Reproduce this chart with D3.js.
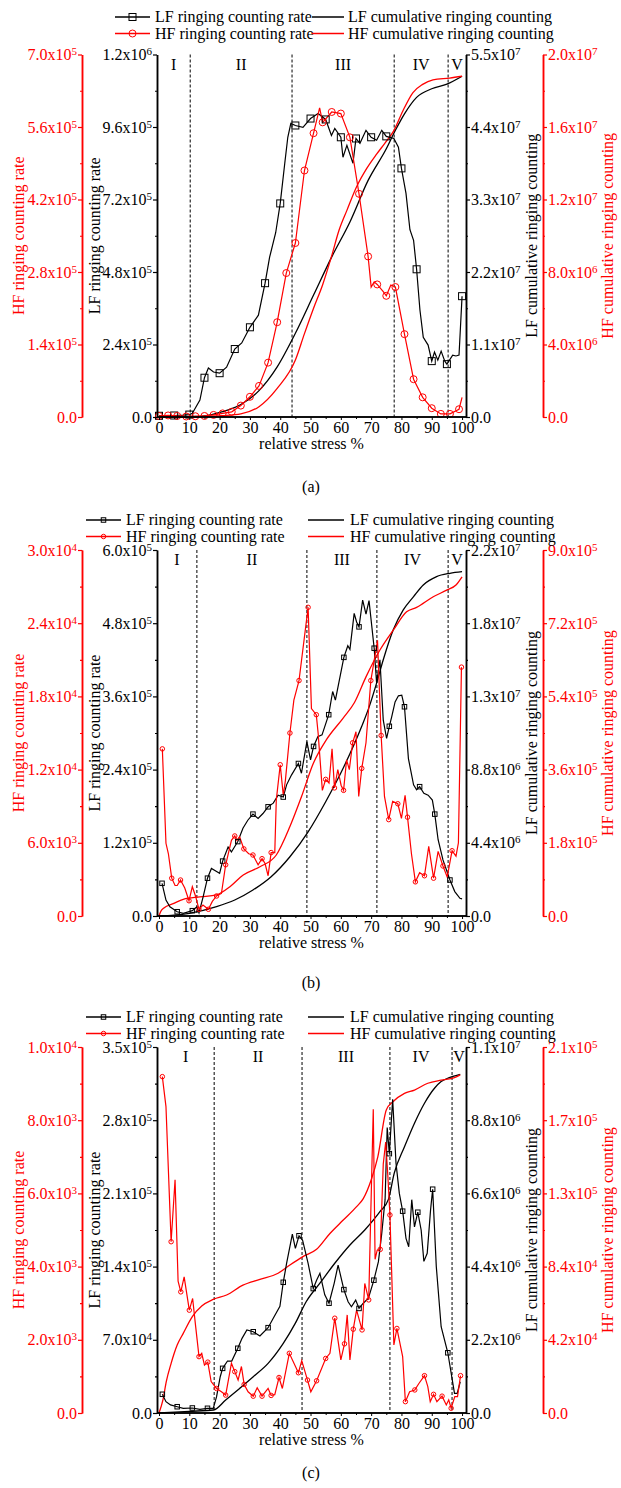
<!DOCTYPE html>
<html>
<head>
<meta charset="utf-8">
<script src="https://cdn.jsdelivr.net/npm/d3@7"></script>
<style>
body { margin: 0; background: #fff; }
svg text { font-family: "Liberation Serif", "Times New Roman", serif; }
</style>
</head>
<body>
<svg id="chart" width="621" height="1488"></svg>
<script>
// ---- data: [relative stress %, value, marker?] ----
var stageNames = ["I", "II", "III", "IV", "V"];

// panel (a)
var aBounds = [10.3, 43.9, 77.6, 95.4];
var aLFRate = [[0,4e3,1],[2,5e3],[5,5e3,1],[8,6e3],[10,8e3,1],[11,12e3],[12,30e3],[13.5,56e3],[15,130e3,1],[16.3,162e3],[18,149e3],[20,145e3,1],[22.3,165e3],[25,225e3,1],[27.3,245e3],[30,297e3,1],[32.8,337e3],[35,443e3,1],[36.5,529e3],[38.5,610e3],[40,707e3,1],[41.5,840e3],[42.5,926e3],[43.5,972e3],[45,965e3,1],[47.5,959e3],[50,988e3,1],[52.5,1005e3],[55,985e3,1],[56.9,932e3],[58,955e3],[60,926e3,1],[60.7,860e3],[62,899e3],[64,840e3],[65,922e3,1],[66.3,906e3],[68.3,949e3],[70,926e3,1],[71.8,916e3],[73.5,949e3],[75,929e3,1],[77.5,922e3],[79,893e3],[80,823e3,1],[81.5,740e3],[82.8,620e3],[84,585e3],[85,489e3,1],[86.1,354e3],[87.2,264e3],[88.8,238e3],[90,185e3,1],[90.9,215e3],[92,188e3],[93.1,218e3],[94.3,185e3],[95,175e3,1],[96.9,205e3],[98,202e3],[99,205e3],[100,400e3,1]];
var aHFRate = [[0,2e3,1],[3,3e3,1],[6,2e3,1],[9,1e3,1],[12,1.5e3,1],[15,2e3,1],[18,4e3,1],[21,7e3,1],[24,10e3,1],[27,22e3,1],[30,39e3,1],[33,60e3,1],[36,105e3,1],[39,183e3,1],[42,278e3,1],[45,336e3,1],[48,476e3,1],[51,548e3,1],[53,597e3],[54,569e3,1],[57,589e3,1],[60,586e3,1],[63,540e3,1],[66,431e3,1],[69,310e3,1],[70,251e3],[71,261e3],[72,256e3,1],[74,242e3],[75,234e3,1],[76.5,255e3],[78,251e3,1],[81,160e3,1],[84,73e3,1],[87,38e3,1],[90,17e3,1],[93,6e3,1],[96,6e3,1],[99,15e3,1],[100,38e3]];
var aLFCum = [[0,0],[10,0],[15,0.15e6],[21,0.8e6],[27,1.9e6],[33,4.0e6],[39,7.6e6],[45,12.7e6],[51,18.5e6],[57,24.3e6],[63,29.6e6],[69,35.9e6],[75,40.7e6],[78,43.5e6],[81,46.0e6],[85,48.5e6],[90,49.8e6],[95,50.5e6],[100,51.7e6]];
var aHFCum = [[0,0],[15,0.02e6],[21,0.07e6],[27,0.17e6],[33,0.57e6],[39,1.58e6],[45,3.14e6],[48,4.6e6],[51,6.0e6],[54,7.3e6],[57,8.9e6],[59.4,10.3e6],[62,11.4e6],[65.2,12.7e6],[68.5,13.7e6],[71.8,14.5e6],[74.5,15.1e6],[77.5,15.8e6],[80.5,16.9e6],[83.8,17.9e6],[87,18.35e6],[90.4,18.6e6],[95.9,18.7e6],[100,18.8e6]];

// panel (b)
var bBounds = [12.5, 48.8, 71.9, 95.4];
var bLFRate = [[1,53.6e3,1],[2.3,26e3],[3.6,15e3],[6,7e3,1],[8,4.4e3],[11,8.7e3,1],[12.5,15e3],[13.2,5e3],[14.6,32e3],[16,62e3,1],[17.3,78e3],[19,73e3],[20,70e3],[21,90e3,1],[22.8,113e3],[23.9,105e3],[26,122e3,1],[27.7,144e3],[29.3,157e3],[31,167e3,1],[32.7,160e3],[34.3,168e3],[36,179e3,1],[37.7,185e3],[39.3,198e3],[41,195e3,1],[42.1,215e3],[43.7,231e3],[46,250e3,1],[47,234e3],[48.8,286e3],[50,256e3],[51,278e3,1],[52.4,294e3],[53.8,297e3],[56,330e3,1],[57.3,368e3],[58.2,354e3],[61,424e3,1],[62.3,443e3],[63,437e3],[64.4,496e3],[65.2,482e3],[66,474e3,1],[67.2,518e3],[68.3,495e3],[69.3,517e3],[71,439e3,1],[71.8,382e3],[72.9,420e3],[74,321e3],[75.1,291e3],[76,311e3,1],[76.8,327e3],[77.9,351e3],[79,361e3],[80.1,362e3],[81,343e3,1],[82.3,258e3],[84,215e3],[85,207e3],[86,212e3,1],[87.4,201e3],[88.8,198e3],[90.2,190e3],[91,167e3,1],[92.1,125e3],[93.7,92e3],[96,59e3,1],[97.6,40e3],[99.3,29e3],[100,28e3]];
var bHFRate = [[1.1,13.7e3,1],[2.3,5.96e3],[3.1,5.1e3],[4.2,3.1e3,1],[5.3,2.5e3],[6,2.5e3],[7.1,2.95e3,1],[8.5,2.3e3],[9.9,1.25e3,1],[11,2.4e3],[12.1,1.6e3],[13.2,0.55e3,1],[14.5,0.9e3],[16.3,0.55e3,1],[17.6,1.2e3],[19,1.64e3,1],[20.6,1.85e3],[22,4.2e3,1],[23.9,6.2e3],[25,6.56e3,1],[25.7,6.2e3],[26.6,6.5e3],[28,5.5e3,1],[29.6,5.1e3],[31,5e3,1],[32.7,4.2e3],[34,4.7e3,1],[35,4.3e3],[36,3.3e3],[37,5.2e3,1],[38.2,5.2e3],[38.7,9.5e3],[40,12.4e3,1],[41,9.9e3],[41.7,11.1e3],[43.2,15e3,1],[44.5,17.7e3],[46.2,19.3e3,1],[49.2,25.3e3,1],[50.3,17e3],[51.9,16.5e3,1],[52.5,15e3],[53.9,10.3e3],[55,11.2e3,1],[56.1,10.9e3],[57.1,13.7e3],[57.9,10.5e3,1],[59,12e3],[60.1,10.7e3],[60.9,10.3e3,1],[61.9,12.8e3],[62.8,12e3],[63.9,14.2e3,1],[65,15.1e3],[65.9,9.8e3],[66.9,12.1e3,1],[68.3,14.2e3],[69.9,19.3e3,1],[72.1,22.6e3],[73.3,14.8e3,1],[74.4,9.8e3],[75.8,7.9e3,1],[77.1,9.4e3],[78.8,9.2e3,1],[80,8e3],[81.2,9.9e3],[82,8.1e3,1],[83.3,5.1e3],[84.6,2.8e3,1],[86,3.55e3],[87.6,3.3e3,1],[89,5.7e3],[90.6,3.1e3,1],[92.1,5.3e3],[93.7,4.1e3,1],[95.1,3.2e3],[96.7,5.35e3,1],[98,4.9e3],[98.8,6e3],[99.8,20.4e3,1]];
var bLFCum = [[0,0],[5,0.05e6],[10,0.16e6],[19,0.56e6],[25,0.96e6],[31,1.56e6],[37,2.36e6],[43.2,3.56e6],[49.2,5.06e6],[55,6.87e6],[61,8.97e6],[66.9,11.4e6],[69.4,12.6e6],[71.8,14.0e6],[74,15.4e6],[77.3,17.2e6],[80.6,18.4e6],[84,19.2e6],[87.2,19.9e6],[91.6,20.4e6],[96,20.6e6],[100,20.7e6]];
var bHFCum = [[0,0],[0.5,10e3],[1.5,19e3],[4.9,31e3],[8,41e3],[13.5,47e3],[19,52e3],[23.4,72e3],[27.8,101e3],[33.3,121e3],[38.7,150e3],[43.2,220e3],[47,293e3],[50.9,375e3],[55.2,433e3],[60.7,486e3],[64.5,525e3],[68.3,588e3],[72.9,654e3],[77.3,703e3],[81.7,748e3],[85,759e3],[90.5,785e3],[95.1,802e3],[98,814e3],[100,834e3]];

// panel (c)
var cBounds = [18.2, 47.2, 76.2, 96.7];
var cLFRate = [[1.1,17.9e3,1],[2.3,10.8e3],[3.8,7.7e3],[6,6e3,1],[8,4.5e3],[11,4.8e3,1],[13.5,3.5e3],[16,4.5e3,1],[17.9,4.5e3],[19,15.6e3],[20.2,34.7e3],[21,42.7e3,1],[22.6,49.7e3],[24,49.7e3],[26,61.9e3,1],[27.4,71.4e3],[29,79.4e3],[31.1,77.7e3,1],[33.3,73.6e3],[36,81.6e3,1],[37.7,90.6e3],[39.9,102e3],[41,125e3,1],[42.1,143e3],[44,171e3],[45,157.5e3],[46.2,169.5e3,1],[47.4,165e3],[49.2,143e3],[50.9,119e3,1],[52,127e3],[53.1,133.6e3],[54.7,113e3],[56.1,105e3,1],[57.8,124e3],[59.1,141.5e3],[61,118e3,1],[62.4,106.4e3],[63.5,101.6e3],[64.9,108e3],[66,100e3,1],[67.4,105e3],[69.1,109.7e3],[70.9,127e3,1],[72.4,144.7e3],[73.5,171.8e3],[74.6,204e3],[75.3,273e3],[76,248e3,1],[77.1,300e3],[78.2,239e3],[79.3,210e3],[80.4,193e3,1],[81.5,167e3],[82.4,159e3],[83.4,204e3],[84.3,178e3],[85.4,192e3,1],[86.5,175e3],[87.4,145e3],[88.5,152.7e3],[89.6,194e3],[90.3,214e3,1],[91.5,140e3],[93.1,82.5e3],[95.3,57.6e3,1],[97.5,18.8e3],[98.4,18.8e3],[99.4,29.9e3]];
var cHFRate = [[1.1,9.19e3,1],[2.3,8.37e3],[4,4.68e3,1],[5.3,6.37e3],[6.3,3.6e3],[7.2,3.31e3,1],[8.3,3.72e3],[10,2.81e3,1],[11.1,3.13e3],[12.1,2.36e3],[13.2,1.54e3,1],[14.1,1.63e3],[15,1.31e3],[16.1,1.39e3,1],[17.2,0.86e3],[19,0.67e3,1],[20.6,0.58e3],[22,0.49e3,1],[23.9,1.36e3],[25,1.13e3,1],[26.1,0.9e3],[27.2,1.27e3],[28.1,0.78e3,1],[29.4,0.58e3],[31.1,0.46e3,1],[32.4,0.69e3],[34,0.46e3,1],[36,0.67e3],[37,0.48e3,1],[38.2,0.5e3],[39.6,0.97e3,1],[40.7,0.67e3],[43,1.63e3,1],[46,1.1e3,1],[47.1,1.43e3],[49,0.9e3,1],[50.1,0.58e3],[52,0.88e3,1],[55,1.49e3,1],[56.4,1.63e3],[58,2.59e3,1],[60,1.45e3],[61.2,1.89e3,1],[62.1,2.68e3],[63,1.45e3],[64.1,2.29e3,1],[65.2,2.81e3],[67,2.27e3,1],[67.9,3.54e3],[69.2,3.09e3,1],[70.7,8.3e3],[71.3,4.2e3],[72,4.45e3],[73,4.47e3,1],[74,6.8e3],[74.8,7.4e3],[75.5,6.5e3],[76.2,5.41e3,1],[77.5,1.86e3],[78.5,2.31e3,1],[80.4,1.54e3],[81.3,0.31e3,1],[82.7,0.58e3],[84.4,0.63e3,1],[85.7,0.8e3],[87.6,1.02e3,1],[88.7,0.72e3],[89.5,0.31e3],[90.6,0.51e3,1],[91.7,0.31e3],[93.4,0.46e3,1],[94.8,0.22e3],[95.6,0.36e3],[96.4,0.13e3,1],[97.6,0.45e3],[98.5,0.45e3],[99.5,1.02e3,1]];
var cLFCum = [[0,0],[10,0.05e6],[18,0.09e6],[22,0.39e6],[26.6,0.74e6],[31.1,1.09e6],[36,1.49e6],[41,2.09e6],[45,2.7e6],[48.6,3.35e6],[53.1,3.9e6],[58,4.5e6],[63,5.05e6],[67.9,5.5e6],[72.9,6.05e6],[75.7,6.42e6],[77.6,7.2e6],[81,8.0e6],[84.3,8.71e6],[87.6,9.31e6],[90.9,9.76e6],[93.1,9.96e6],[95.8,10.08e6],[99.4,10.18e6]];
var cHFCum = [[0,0],[1.3,7.5e3],[2.4,18e3],[4,28.5e3],[6,39e3],[8,45.7e3],[11,55.3e3],[14.1,61.4e3],[17.9,65.2e3],[22.3,67.7e3],[27.7,73.4e3],[33.3,76.7e3],[39.3,80.2e3],[43.2,84.9e3],[47.5,89.7e3],[52,93.9e3],[56.4,103e3],[60.8,110.7e3],[65.2,118.4e3],[67.4,123e3],[70,133.7e3],[72.2,147e3],[75,173.9e3],[77.2,178.6e3],[81,183.4e3],[84.3,185.3e3],[88.7,189.2e3],[93.1,191e3],[97.5,192.4e3],[99.4,194e3]];

// axis maxima: [LF rate, HF rate, LF cumulative, HF cumulative]
var aMax = [1.2e6, 7e5, 5.5e7, 2e7];
var bMax = [6e5, 3e4, 2.2e7, 9e5];
var cMax = [3.5e5, 1e4, 1.1e7, 2.1e5];
var xTicks = d3.range(0, 101, 10);

var RED = "#ff0000";
var svg = d3.select("#chart");

var panels = [
  {lfRate: aLFRate, hfRate: aHFRate, lfCum: aLFCum, hfCum: aHFCum, max: aMax, bounds: aBounds,
   top: 54.5, bottom: 417, legY: 17, leg: [115, 150, 155, 312, 344, 348], big: true, cap: "(a)", capY: 492},
  {lfRate: bLFRate, hfRate: bHFRate, lfCum: bLFCum, hfCum: bHFCum, max: bMax, bounds: bBounds,
   top: 550, bottom: 916, legY: 520, leg: [86, 121, 126, 308, 344, 350], big: false, cap: "(b)", capY: 988},
  {lfRate: cLFRate, hfRate: cHFRate, lfCum: cLFCum, hfCum: cHFCum, max: cMax, bounds: cBounds,
   top: 1047, bottom: 1413, legY: 1017, leg: [86, 121, 126, 308, 344, 350], big: false, cap: "(c)", capY: 1478}
];

var left = 157, right = 466, redLeft = 82, redRight = 543;
var x = d3.scaleLinear().domain([-0.66, 101.3]).range([left, right]);

function sciLabels(sel) {
  sel.selectAll(".tick text").each(function(d) {
    var t = d3.select(this).text(null);
    if (d === 0) { t.text("0.0"); return; }
    var e = Math.floor(Math.log10(d) + 1e-9);
    var m = (d / Math.pow(10, e)).toFixed(1);
    t.append("tspan").text(m + "x10");
    t.append("tspan").attr("dy", "-0.45em").attr("font-size", "11px").text(e);
  });
}

function yAxis(g, scale, xpos, side, color, max) {
  var ticks = d3.range(6).map(function(i) { return max * i / 5; });
  var minor = d3.range(5).map(function(i) { return max * (i + 0.5) / 5; });
  var mk = side === "left" ? d3.axisLeft : d3.axisRight;
  var a = g.append("g").attr("transform", "translate(" + xpos + ",0)")
    .call(mk(scale).tickValues(ticks).tickSize(4).tickSizeOuter(0).tickPadding(1));
  a.selectAll("text").attr("fill", color).attr("font-size", "16px")
    .attr("font-family", "'Liberation Serif', serif");
  sciLabels(a);
  a.append("g").call(mk(scale).tickValues(minor).tickSize(2).tickSizeOuter(0).tickFormat(""));
  a.selectAll("path").attr("stroke", color).attr("stroke-width", 1.5);
  a.selectAll("line").attr("stroke", color).attr("stroke-width", 1.2);
}

function vTitle(g, xpos, ymid, text, color) {
  g.append("text").attr("transform", "translate(" + xpos + "," + ymid + ") rotate(-90)")
    .attr("text-anchor", "middle").attr("dy", "0.35em").attr("font-size", "16px")
    .attr("fill", color).text(text);
}

function marker(g, kind, cx, cy, size, color) {
  if (kind === "square") {
    g.append("rect").attr("x", cx - size / 2).attr("y", cy - size / 2)
      .attr("width", size).attr("height", size)
      .attr("fill", "none").attr("stroke", color).attr("stroke-width", 1);
  } else {
    g.append("circle").attr("cx", cx).attr("cy", cy).attr("r", size / 2)
      .attr("fill", "none").attr("stroke", color).attr("stroke-width", 1);
  }
}

panels.forEach(function(p) {
  var g = svg.append("g");
  var yLR = d3.scaleLinear().domain([0, p.max[0]]).range([p.bottom, p.top]);
  var yHR = d3.scaleLinear().domain([0, p.max[1]]).range([p.bottom, p.top]);
  var yLC = d3.scaleLinear().domain([0, p.max[2]]).range([p.bottom, p.top]);
  var yHC = d3.scaleLinear().domain([0, p.max[3]]).range([p.bottom, p.top]);
  var mSize = p.big ? 7 : 4.5;
  var mid = (p.top + p.bottom) / 2;

  // stage dividers and names
  p.bounds.forEach(function(b) {
    g.append("line").attr("x1", x(b)).attr("x2", x(b)).attr("y1", p.top).attr("y2", p.bottom)
      .attr("stroke", "#000").attr("stroke-width", 1).attr("stroke-dasharray", "3,2");
  });
  var edges = [-0.66].concat(p.bounds, [101.3]);
  stageNames.forEach(function(s, i) {
    g.append("text").attr("x", x((edges[i] + edges[i + 1]) / 2)).attr("y", p.top + 15)
      .attr("text-anchor", "middle").attr("font-size", "16px").text(s);
  });

  // lines
  var rateLine = function(ys) {
    return d3.line().x(function(d) { return x(d[0]); }).y(function(d) { return ys(d[1]); });
  };
  var cumLine = function(ys) {
    return d3.line().curve(d3.curveMonotoneX).x(function(d) { return x(d[0]); }).y(function(d) { return ys(d[1]); });
  };
  g.append("path").datum(p.lfCum).attr("d", cumLine(yLC))
    .attr("fill", "none").attr("stroke", "#000").attr("stroke-width", 1.3);
  g.append("path").datum(p.hfCum).attr("d", cumLine(yHC))
    .attr("fill", "none").attr("stroke", RED).attr("stroke-width", 1.3);
  g.append("path").datum(p.lfRate).attr("d", rateLine(yLR))
    .attr("fill", "none").attr("stroke", "#000").attr("stroke-width", 1.2);
  g.append("path").datum(p.hfRate).attr("d", rateLine(yHR))
    .attr("fill", "none").attr("stroke", RED).attr("stroke-width", 1.2);
  p.lfRate.filter(function(d) { return d[2]; }).forEach(function(d) {
    marker(g, "square", x(d[0]), yLR(d[1]), mSize, "#000");
  });
  p.hfRate.filter(function(d) { return d[2]; }).forEach(function(d) {
    marker(g, "circle", x(d[0]), yHR(d[1]), mSize, RED);
  });

  // axes
  var xa = g.append("g").attr("transform", "translate(0," + p.bottom + ")")
    .call(d3.axisBottom(x).tickValues(xTicks).tickSize(3).tickSizeOuter(0).tickPadding(2));
  xa.selectAll("text").attr("font-size", "16px").attr("font-family", "'Liberation Serif', serif").attr("fill", "#000");
  xa.append("g").call(d3.axisBottom(x).tickValues(d3.range(5, 100, 10)).tickSize(2).tickSizeOuter(0).tickFormat(""));
  xa.selectAll("path").attr("d", "M" + left + ",0H" + right).attr("stroke-width", 1.5);
  g.append("text").attr("x", (left + right) / 2).attr("y", p.bottom + 32)
    .attr("text-anchor", "middle").attr("font-size", "16px").text("relative stress %");

  yAxis(g, yLR, left, "left", "#000", p.max[0]);
  yAxis(g, yHR, redLeft, "left", RED, p.max[1]);
  yAxis(g, yLC, right, "right", "#000", p.max[2]);
  yAxis(g, yHC, redRight, "right", RED, p.max[3]);

  vTitle(g, 18, mid, "HF ringing counting rate", RED);
  vTitle(g, 94, mid, "LF ringing counting rate", "#000");
  vTitle(g, 531, mid, "LF cumulative ringing counting", "#000");
  vTitle(g, 607, mid, "HF cumulative ringing counting", RED);

  // legend
  var L = p.leg;
  var rows = [
    {y: p.legY, c: "#000", m: "square", t1: "LF ringing counting rate", t2: "LF cumulative ringing counting"},
    {y: p.legY + 16.5, c: RED, m: "circle", t1: "HF ringing counting rate", t2: "HF cumulative ringing counting"}
  ];
  rows.forEach(function(r) {
    g.append("line").attr("x1", L[0]).attr("x2", L[1]).attr("y1", r.y).attr("y2", r.y)
      .attr("stroke", r.c).attr("stroke-width", 1.5);
    marker(g, r.m, (L[0] + L[1]) / 2, r.y, mSize, r.c);
    g.append("text").attr("x", L[2]).attr("y", r.y + 5).attr("font-size", "16px").text(r.t1);
    g.append("line").attr("x1", L[3]).attr("x2", L[4]).attr("y1", r.y).attr("y2", r.y)
      .attr("stroke", r.c).attr("stroke-width", 1.5);
    g.append("text").attr("x", L[5]).attr("y", r.y + 5).attr("font-size", "16px").text(r.t2);
  });

  g.append("text").attr("x", 311).attr("y", p.capY).attr("text-anchor", "middle")
    .attr("font-size", "16px").text(p.cap);
});
</script>
</body>
</html>
